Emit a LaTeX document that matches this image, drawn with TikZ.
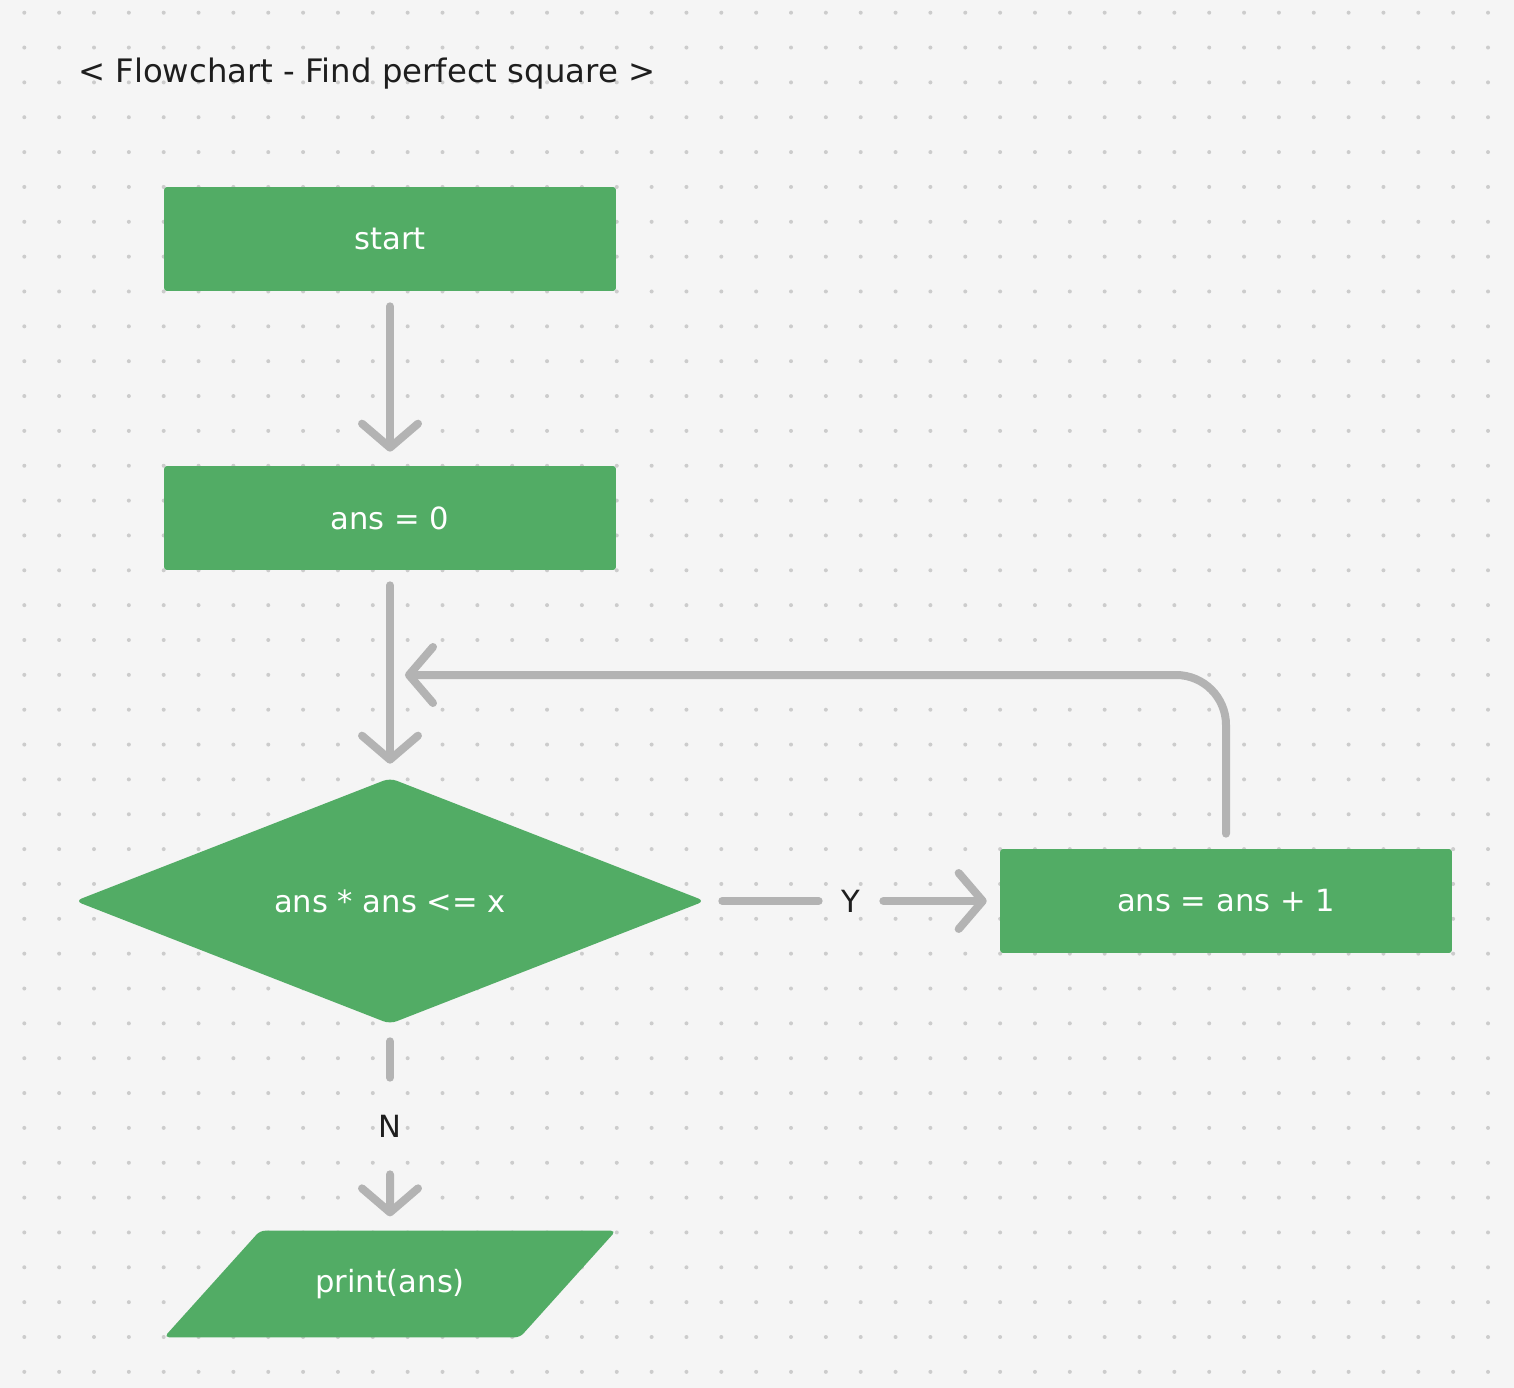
\documentclass[tikz,border=0pt]{standalone}
\usepackage{fontspec}
\setmainfont{DejaVu Sans}
\usetikzlibrary{shapes.geometric, arrows.meta}
\definecolor{paperColor}{RGB}{245, 245, 245}
\definecolor{dotColor}{RGB}{204, 204, 204}
\definecolor{boxGreen}{RGB}{82, 172, 101}
\definecolor{lineGray}{RGB}{179, 179, 179}
\definecolor{inkColor}{RGB}{30, 30, 30}
\tikzset{
    fc_box/.style={
        rectangle,
        rounded corners=0.06cm,
        fill=boxGreen,
        text=white,
        font=\fontsize{17.4}{20}\selectfont,
        minimum width=9.04cm,
        minimum height=2.08cm
    },
    fc_decision/.style={
        fc_box,
        diamond,
        aspect=2.566,
        inner sep=0pt,
        rounded corners=0.14cm,
        minimum width=12.6cm,
        minimum height=4.92cm
    },
    fc_io/.style={
        fc_box,
        trapezium,
        trapezium left angle=48,
        trapezium right angle=132,
        trapezium stretches body,
        inner ysep=0.77cm,
        rounded corners=0.1cm
    },
    fc_label/.style={
        inner sep=0pt,
        text=inkColor,
        font=\fontsize{17.4}{20}\selectfont
    },
    fc_line/.style={
        line width=0.16cm,
        line cap=round,
        draw=lineGray
    },
    fc_edge/.style={
        fc_line,
        -{Straight Barb[length=0.48cm, width=1.12cm, round]}
    }
}
\begin{document}
\begin{tikzpicture}[x=0.02cm, y=-0.02cm]
    % paper and dot grid
    \fill[paperColor] (0,0) rectangle (1514,1388);
    \useasboundingbox (0,0) rectangle (1514,1388);
    \foreach \i in {0,...,42}
        \foreach \j in {0,...,39}
            \fill[dotColor] ({24.3+34.85*\i},{12.7+34.85*\j}) circle[radius=0.04cm];

    \node[anchor=base west, text=inkColor, font=\fontsize{18.4}{22}\selectfont]
        (title) at (72,83) {< Flowchart - Find perfect square >};

    \node[fc_box] (start) at (390,239) {start};
    \node[fc_box] (zero) at (390,518) {ans = 0};
    \node[fc_decision] (cond) at (390,901) {ans * ans <= x};
    \node[fc_box] (incr) at (1226,901) {ans = ans + 1};
    \node[fc_io] (print) at (390,1284) {print(ans)};

    \node[fc_label, minimum width=1.28cm] (yes) at (851,901) {Y};
    \node[fc_label, minimum height=1.92cm] (no) at (390,1126) {N};
    \coordinate (loopin) at (405,675);

    \draw[fc_edge, shorten <=0.3cm, shorten >=0.28cm] (start) -- (zero);
    \draw[fc_edge, shorten <=0.3cm, shorten >=0.28cm] (zero) -- (cond);
    \draw[fc_edge, shorten <=0.3cm, rounded corners=1cm] (incr.north) |- (loopin);

    % yes branch
    \draw[fc_line, shorten <=0.34cm] (cond) -- (yes);
    \draw[fc_edge, shorten >=0.26cm] (yes) -- (incr);

    % no branch
    \draw[fc_line, shorten <=0.34cm] (cond) -- (no);
    \draw[fc_edge, shorten >=0.28cm] (no) -- (print);
\end{tikzpicture}
\end{document}
